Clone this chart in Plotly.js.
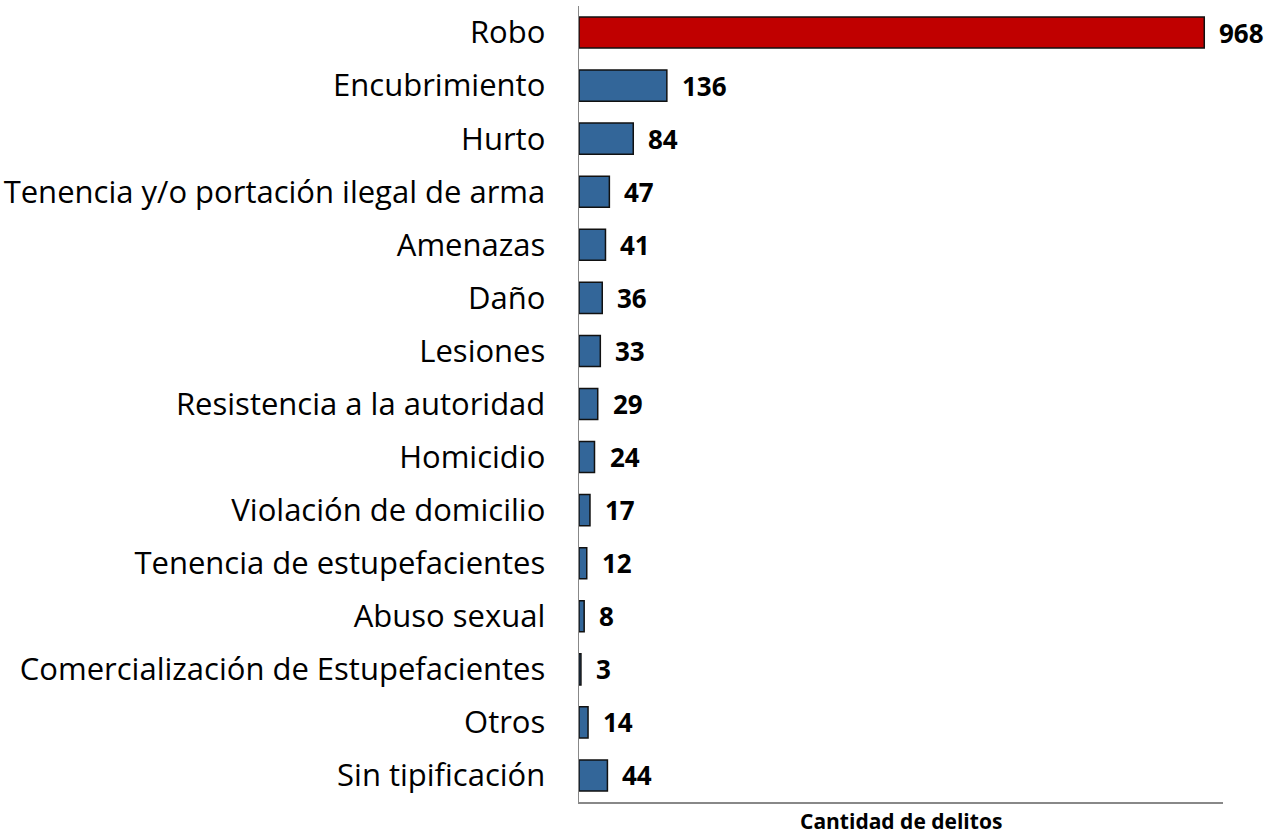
<!DOCTYPE html>
<html>
<head>
<meta charset="utf-8">
<script src="https://cdn.plot.ly/plotly-3.0.1.min.js"></script>
<style>html,body{margin:0;padding:0;background:#fff}#chart{width:1272px;height:835px}</style>
</head>
<body>
<div id="chart"></div>
<script>
const categories = ["Robo","Encubrimiento","Hurto","Tenencia y/o portación ilegal de arma","Amenazas","Daño","Lesiones","Resistencia a la autoridad","Homicidio","Violación de domicilio","Tenencia de estupefacientes","Abuso sexual","Comercialización de Estupefacientes","Otros","Sin tipificación"];
const values = [968,136,84,47,41,36,33,29,24,17,12,8,3,14,44];
const axisTitle = "Cantidad de delitos";

const colors = categories.map((c,i)=> i===0 ? "#C00000" : "#336699");
const font = "Open Sans, sans-serif";

const annotations = values.map((v,i)=>({
  x: v, y: categories[i], xref:'x', yref:'y', text: String(v),
  showarrow:false, xanchor:'left', yanchor:'middle', xshift: 13, yshift:0,
  font:{family:font, size:26, color:'#000', weight:'bold'}
}));
annotations.push({
  text: "<b>"+axisTitle+"</b>", xref:'paper', yref:'paper', x:0.5, y:-0.024,
  xanchor:'center', yanchor:'middle', showarrow:false, font:{family:font,size:21,color:'#000'}
});

Plotly.newPlot('chart',[{
  type:'bar', orientation:'h', x: values, y: categories,
  marker:{color:colors, line:{color:'#111', width:1.5}},
  hoverinfo:'none'
}],{
  width:1272, height:835,
  margin:{l:579, r:49, t:6, b:33},
  paper_bgcolor:'#fff', plot_bgcolor:'#fff',
  bargap:0.414,
  showlegend:false,
  xaxis:{range:[0,997], showgrid:false, zeroline:false, showticklabels:false, ticks:'',
    showline:true, linecolor:'#888', linewidth:1.5},
  yaxis:{autorange:'reversed', showgrid:false, zeroline:false, ticks:'',
    showline:true, linecolor:'#888', linewidth:1.5, ticklabelstandoff:26,
    tickfont:{family:font, size:31, color:'#000'}},
  annotations: annotations
},{displayModeBar:false, staticPlot:true});
</script>
</body>
</html>
